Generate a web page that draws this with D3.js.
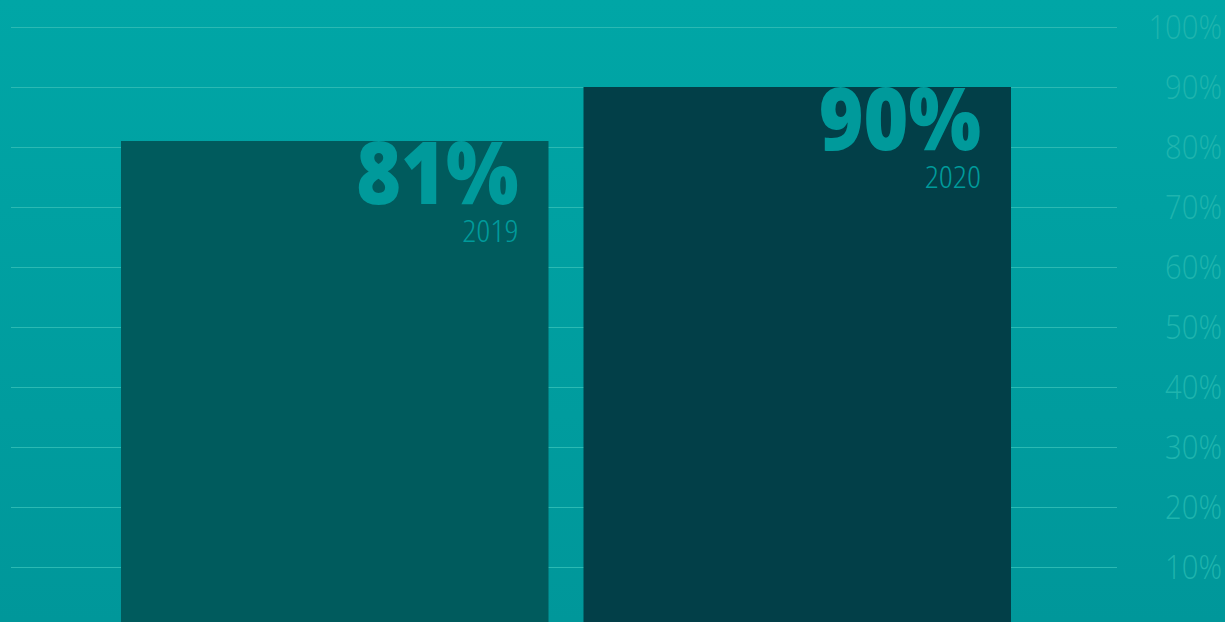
<!DOCTYPE html>
<html>
<head>
<meta charset="utf-8">
<script src="https://cdn.jsdelivr.net/npm/d3@7"></script>
<style>
  html, body { margin: 0; padding: 0; background: #00a0a1; overflow: hidden; }
  svg { display: block; }
</style>
</head>
<body>
<div id="chart"></div>
<script>
// data
const years = ["2019", "2020"];
const values = [81, 90];
const barColors = ["#005b5d", "#023f48"];
const tickValues = [10, 20, 30, 40, 50, 60, 70, 80, 90, 100];

const W = 1225, H = 622;

const svg = d3.select("#chart")
    .append("svg")
    .attr("width", W)
    .attr("height", H);

// background gradient
const grad = svg.append("defs").append("linearGradient")
    .attr("id", "bg")
    .attr("x1", 0).attr("y1", 0).attr("x2", 0).attr("y2", 1);
grad.append("stop").attr("offset", "0%").attr("stop-color", "#00a6a6");
grad.append("stop").attr("offset", "100%").attr("stop-color", "#00979a");

svg.append("rect")
    .attr("width", W).attr("height", H)
    .attr("fill", "url(#bg)");

// scales
const y = d3.scaleLinear()
    .domain([0, 100])
    .range([627, 27]);

const x = d3.scaleBand()
    .domain(years)
    .range([121, 1011])
    .paddingInner(0.0757)
    .paddingOuter(0);

// gridlines
svg.append("g")
    .selectAll("line")
    .data(tickValues)
    .join("line")
    .attr("x1", 11)
    .attr("x2", 1117)
    .attr("y1", d => y(d) + 0.5)
    .attr("y2", d => y(d) + 0.5)
    .attr("stroke", "#2bb9b3")
    .attr("stroke-width", 1);

// right axis labels (narrowed a bit to mimic the condensed face)
svg.append("g")
    .selectAll("text")
    .data(tickValues)
    .join("text")
    .attr("transform", d => `translate(1222,${y(d) + 12}) scale(0.885,1)`)
    .attr("text-anchor", "end")
    .attr("fill", "#1fb4ae")
    .style("font-family", "'Open Sans', sans-serif")
    .style("font-weight", 300)
    .style("font-size", "33px")
    .text(d => d + "%");

// bars
const bars = svg.append("g")
    .selectAll("g")
    .data(years.map((yr, i) => ({ year: yr, value: values[i], color: barColors[i] })))
    .join("g");

bars.append("rect")
    .attr("x", d => x(d.year))
    .attr("y", d => y(d.value))
    .attr("width", x.bandwidth())
    .attr("height", d => H - y(d.value))
    .attr("fill", d => d.color);

// big value labels
bars.append("text")
    .attr("transform", d => `translate(${x(d.year) + x.bandwidth() - 30},${y(d.value) + 63}) scale(0.89,1)`)
    .attr("text-anchor", "end")
    .attr("fill", "#009a9b")
    .style("font-family", "'Open Sans', sans-serif")
    .style("font-weight", 800)
    .style("font-size", "86px")
    .text(d => d.value + "%");

// year labels
bars.append("text")
    .attr("transform", d => `translate(${x(d.year) + x.bandwidth() - 30},${y(d.value) + 101}) scale(1.08,1)`)
    .attr("text-anchor", "end")
    .attr("fill", "#009a9b")
    .style("font-family", "'Open Sans', sans-serif")
    .style("font-weight", 300)
    .style("font-stretch", "condensed")
    .style("font-size", "32px")
    .text(d => d.year);
</script>
</body>
</html>
